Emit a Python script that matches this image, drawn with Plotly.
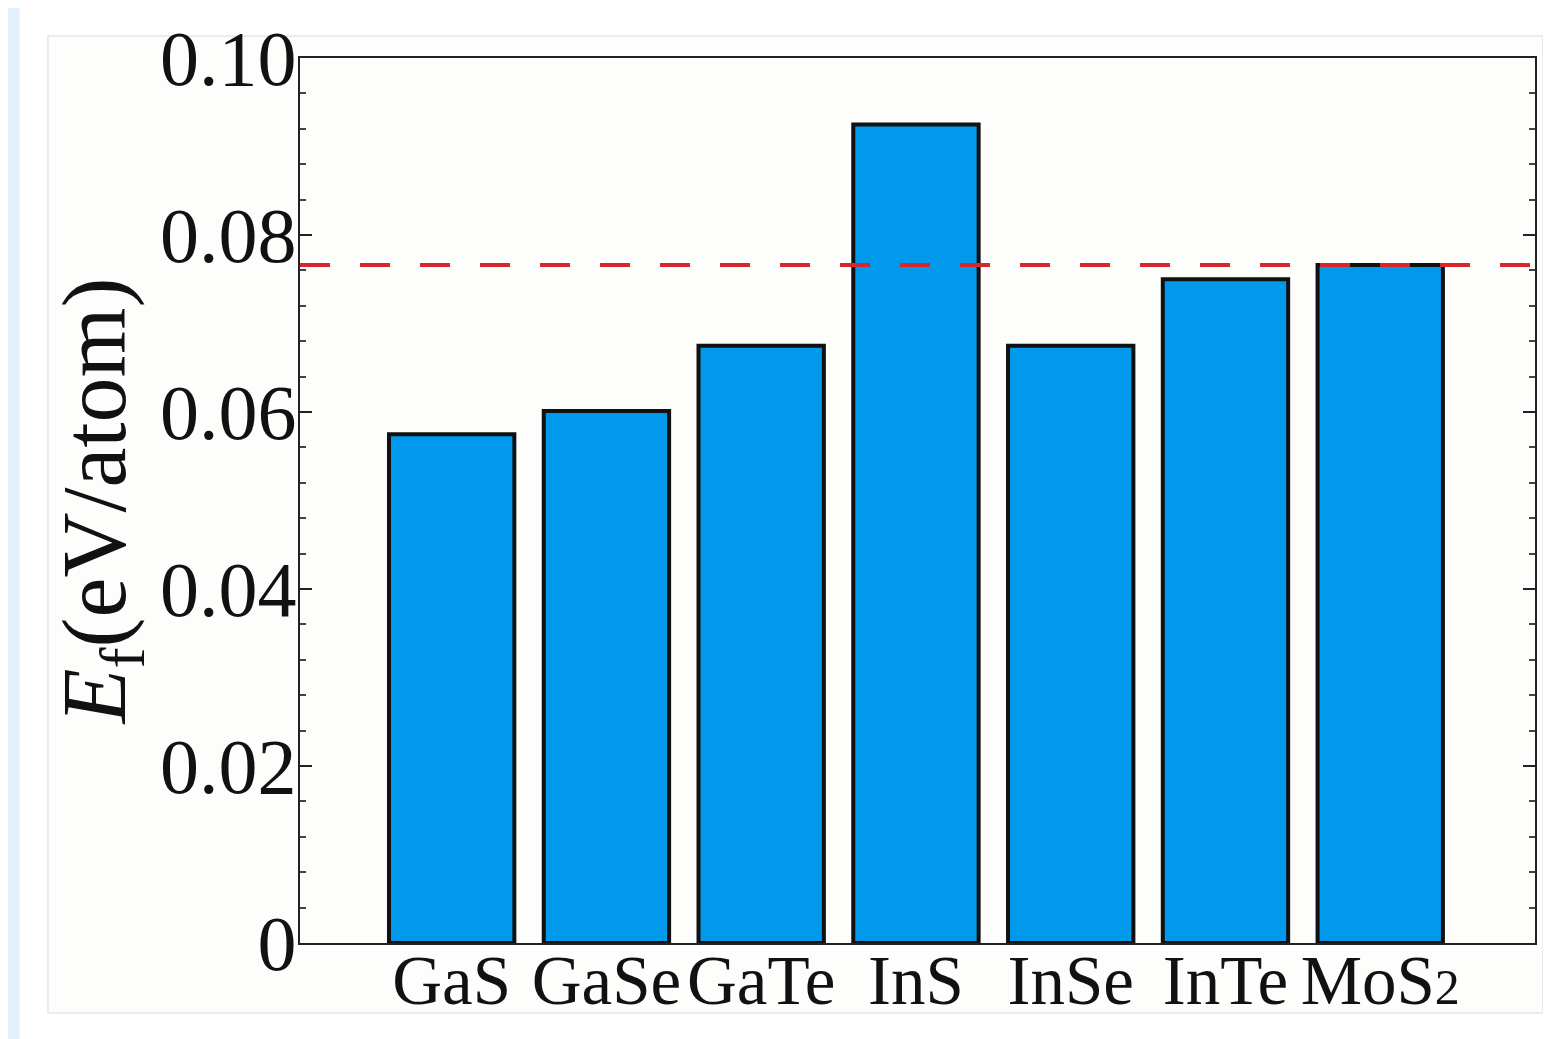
import plotly.graph_objects as go

materials = ['GaS', 'GaSe', 'GaTe', 'InS', 'InSe', 'InTe', 'MoS<span style="font-size:50px">2</span>']
formation_energy = [0.0575, 0.0601, 0.0675, 0.0925, 0.0675, 0.0750, 0.0766]
reference_level = 0.0766

y_tickvals = [0, 0.02, 0.04, 0.06, 0.08, 0.10]
y_ticktext = ['0', '0.02', '0.04', '0.06', '0.08', '0.10']

serif = 'Liberation Serif, Times New Roman, serif'

fig = go.Figure()
fig.add_trace(go.Bar(x=materials, y=formation_energy,
                     marker=dict(color='#0099ec', line=dict(color='#111111', width=4))))

# dashed reference line (MoS2 level)
fig.add_shape(type='line', xref='paper', x0=0, x1=1, yref='y', y0=reference_level, y1=reference_level,
              line=dict(color='#d9262b', width=4, dash='30px,30px'), layer='above')

# white page panel on light blue backdrop
fig.add_shape(type='rect', xref='paper', yref='paper', x0=-0.227, x1=1.03, y0=-0.25, y1=1.059,
              fillcolor='white', line=dict(width=0), layer='below')
fig.add_shape(type='rect', xref='paper', yref='paper', x0=-0.204, x1=1.0065, y0=-0.079, y1=1.025,
              fillcolor='#fdfdfb', line=dict(color='#ececec', width=2), layer='below')

fig.update_layout(
    width=1551, height=1039,
    margin=dict(l=292, r=24, t=50, b=104, autoexpand=False),
    paper_bgcolor='#e4f0fc', plot_bgcolor='#fdfdfb',
    bargap=0.19, showlegend=False,
    font=dict(family=serif, color='#111111'),
)
fig.update_xaxes(type='category', range=[-0.98, 7.0], showline=True, linecolor='#222222', linewidth=2,
                 mirror=True, ticks='', showgrid=False, automargin=False, ticklabelstandoff=-24,
                 tickfont=dict(size=69, family=serif))
fig.update_yaxes(range=[0, 0.1], tickvals=y_tickvals, ticktext=y_ticktext,
                 showline=True, linecolor='#222222', linewidth=2, mirror='ticks',
                 ticks='inside', ticklen=12, tickwidth=2, tickcolor='#222222',
                 minor=dict(ticks='inside', dtick=0.004, ticklen=6, tickwidth=2, tickcolor='#444444'),
                 showgrid=False, zeroline=False, ticklabelstandoff=-14, automargin=False,
                 tickfont=dict(size=78, family=serif),
                 title=dict(text='<i>E</i><sub>f</sub>(eV/atom)', font=dict(size=90, family=serif), standoff=4))

fig.write_html('out.html')
